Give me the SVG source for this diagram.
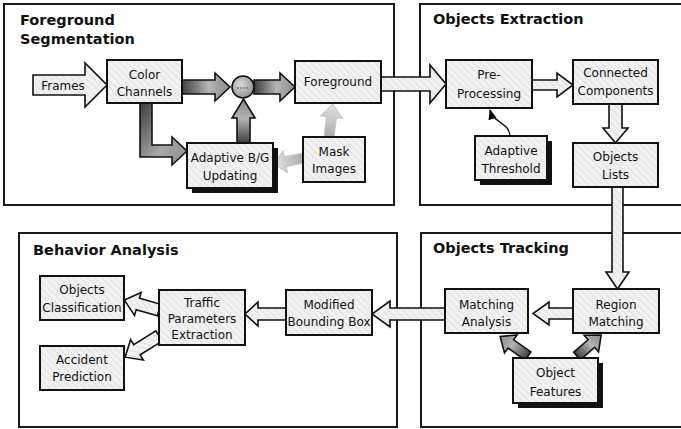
<svg xmlns="http://www.w3.org/2000/svg" width="681" height="429" viewBox="0 0 681 429">
<defs>
<pattern id="hatch" width="5" height="5" patternUnits="userSpaceOnUse" patternTransform="rotate(-45)">
<rect width="5" height="5" fill="#f1f1f1"/>
<line x1="0" y1="0" x2="0" y2="5" stroke="#d2d2d2" stroke-width="1"/>
</pattern>
<linearGradient id="shadeH" x1="0" y1="0" x2="1" y2="0">
<stop offset="0" stop-color="#3e3e3e"/>
<stop offset="0.55" stop-color="#b4b4b4"/>
<stop offset="1" stop-color="#8a8a8a"/>
</linearGradient>
<linearGradient id="shadeV" x1="0" y1="1" x2="0" y2="0">
<stop offset="0" stop-color="#3e3e3e"/>
<stop offset="0.55" stop-color="#b4b4b4"/>
<stop offset="1" stop-color="#8a8a8a"/>
</linearGradient>
<linearGradient id="shadeL" x1="0" y1="0" x2="1" y2="1">
<stop offset="0" stop-color="#3e3e3e"/>
<stop offset="0.6" stop-color="#a8a8a8"/>
<stop offset="1" stop-color="#8a8a8a"/>
</linearGradient>
<linearGradient id="fade" x1="0" y1="0" x2="1" y2="0">
<stop offset="0" stop-color="#a9a9a9"/>
<stop offset="1" stop-color="#e4e4e4"/>
</linearGradient>
<radialGradient id="circ" cx="0.4" cy="0.4" r="0.7">
<stop offset="0" stop-color="#d8d8d8"/>
<stop offset="1" stop-color="#8c8c8c"/>
</radialGradient>
<marker id="tri" viewBox="0 0 10 10" refX="9" refY="5" markerWidth="8" markerHeight="8" orient="auto">
<path d="M0,1 L10,5 L0,9 Z" fill="#000"/>
</marker>
</defs>
<style>
.panel{fill:#fff;stroke:#1a1a1a;stroke-width:2}
.node{fill:url(#hatch);stroke:#111;stroke-width:2}
.shadow{fill:#111}
.title{font-family:"DejaVu Sans",Verdana,sans-serif;font-weight:bold;font-size:14.5px;fill:#111}
.lbl{font-family:"DejaVu Sans",Verdana,sans-serif;font-size:12px;fill:#111;text-anchor:middle}
.hollow{fill:url(#hatch);stroke:#111;stroke-width:1.6;stroke-linejoin:miter}
.dark{stroke:#111;stroke-width:1.6}
.faded{fill:url(#fade);stroke:#c4c4c4;stroke-width:1}
</style>
<rect width="681" height="429" fill="#fff"/>

<g id="panels">
<g id="panel-fg"><rect class="panel" x="4" y="4" width="390" height="201"/>
<text class="title" x="20" y="25">Foreground</text><text class="title" x="20" y="44">Segmentation</text></g>
<g id="panel-oe"><rect class="panel" x="420" y="4" width="280" height="201"/>
<text class="title" x="433" y="24">Objects Extraction</text></g>
<g id="panel-ba"><rect class="panel" x="19" y="233" width="378" height="194"/>
<text class="title" x="33" y="255">Behavior Analysis</text></g>
<g id="panel-ot"><rect class="panel" x="421" y="233" width="280" height="194"/>
<text class="title" x="433" y="253">Objects Tracking</text></g>
</g>

<g id="connectors">
<path class="hollow" d="M33,75 L85,75 L85,63 L107,85 L85,107 L85,95 L33,95 Z"/>
<path class="dark" fill="url(#shadeH)" d="M182,80 L215,80 L215,73 L230,87 L215,101 L215,94 L182,94 Z"/>
<path class="dark" fill="url(#shadeH)" d="M254,80 L280,80 L280,73 L295,87 L280,101 L280,94 L254,94 Z"/>
<path class="dark" fill="url(#shadeV)" d="M237,143 L237,118 L232,118 L243.5,99 L255,118 L250,118 L250,143 Z"/>
<path class="dark" fill="url(#shadeL)" d="M140,103 L140,157 L172,157 L172,165 L187,151 L172,137 L172,145 L152,145 L152,103 Z"/>
<path class="faded" transform="translate(304,158) rotate(169)" d="M0,-5 L19,-5 L19,-11 L31,0 L19,11 L19,5 L0,5 Z"/>
<path class="faded" transform="translate(329,137) rotate(-83)" d="M0,-5 L20,-5 L20,-11 L33,0 L20,11 L20,5 L0,5 Z"/>
<path class="hollow" d="M381,77 L430,77 L430,65 L446,84 L430,103 L430,91 L381,91 Z"/>
<path class="hollow" d="M532,80 L557,80 L557,73 L573,85 L557,97 L557,90 L532,90 Z"/>
<path fill="none" stroke="#111" stroke-width="1.3" marker-end="url(#tri)" d="M510,136 C509,122 494,124 490,110"/>
<path class="hollow" d="M609,104 L609,128 L603,128 L615.5,143 L628,128 L622,128 L622,104 Z"/>
<path class="hollow" d="M612,187 L612,272 L606,272 L617.5,289 L629,272 L623,272 L623,187 Z"/>
<path class="hollow" d="M573,308 L549,308 L549,302 L533,313.5 L549,325 L549,319 L573,319 Z"/>
<path class="dark" fill="url(#shadeH)" transform="translate(528,356) rotate(-145)" d="M0,-5 L21,-5 L21,-11 L34,0 L21,11 L21,5 L0,5 Z"/>
<path class="dark" fill="url(#shadeH)" transform="translate(577,356) rotate(-41)" d="M0,-5 L19,-5 L19,-11 L32,0 L19,11 L19,5 L0,5 Z"/>
<path class="hollow" d="M445,308 L390,308 L390,301 L372,314 L390,327 L390,320 L445,320 Z"/>
<path class="hollow" d="M286,308 L258,308 L258,302 L245,314 L258,326 L258,320 L286,320 Z"/>
<path class="hollow" transform="translate(159,310) rotate(196)" d="M0,-6 L22,-6 L22,-12 L36,0 L22,12 L22,6 L0,6 Z"/>
<path class="hollow" transform="translate(159,336) rotate(148)" d="M0,-6 L26,-6 L26,-12 L40,0 L26,12 L26,6 L0,6 Z"/>
</g>

<g id="frames"><text class="lbl" x="63" y="90">Frames</text></g>
<g id="color-channels"><rect class="node" x="107" y="60" width="75" height="43"/>
<text class="lbl" x="144.5" y="79">Color</text><text class="lbl" x="144.5" y="96">Channels</text></g>
<g id="subtract"><circle cx="243" cy="87" r="11" fill="url(#circ)" stroke="#111" stroke-width="1.6"/>
<line x1="237" y1="88" x2="249" y2="88" stroke="#444" stroke-width="0.8" stroke-dasharray="2,1"/></g>
<g id="foreground"><rect class="node" x="295" y="61" width="86" height="42"/>
<text class="lbl" x="338" y="86">Foreground</text></g>
<g id="adaptive-bg"><rect class="shadow" x="192" y="148" width="86" height="45"/>
<rect class="node" x="187" y="143" width="86" height="45"/>
<text class="lbl" x="230" y="162">Adaptive B/G</text><text class="lbl" x="230" y="180">Updating</text></g>
<g id="mask-images"><rect class="node" x="303" y="137" width="62" height="45"/>
<text class="lbl" x="334" y="156">Mask</text><text class="lbl" x="334" y="173">Images</text></g>

<g id="pre-processing"><rect class="node" x="446" y="60" width="86" height="48"/>
<text class="lbl" x="489" y="79">Pre-</text><text class="lbl" x="489" y="98">Processing</text></g>
<g id="connected-components"><rect class="node" x="573" y="60" width="85" height="44"/>
<text class="lbl" x="615.5" y="77">Connected</text><text class="lbl" x="615.5" y="95">Components</text></g>
<g id="adaptive-threshold"><rect class="shadow" x="480" y="141" width="72" height="44"/>
<rect class="node" x="475" y="136" width="72" height="44"/>
<text class="lbl" x="511" y="155">Adaptive</text><text class="lbl" x="511" y="173">Threshold</text></g>
<g id="objects-lists"><rect class="node" x="573" y="143" width="85" height="44"/>
<text class="lbl" x="615.5" y="161">Objects</text><text class="lbl" x="615.5" y="179">Lists</text></g>

<g id="region-matching"><rect class="node" x="573" y="289" width="86" height="44"/>
<text class="lbl" x="616" y="309">Region</text><text class="lbl" x="616" y="326">Matching</text></g>
<g id="matching-analysis"><rect class="node" x="445" y="289" width="83" height="44"/>
<text class="lbl" x="486.5" y="309">Matching</text><text class="lbl" x="486.5" y="326">Analysis</text></g>
<g id="object-features"><rect class="shadow" x="518" y="363" width="85" height="45"/>
<rect class="node" x="513" y="358" width="85" height="45"/>
<text class="lbl" x="555.5" y="377">Object</text><text class="lbl" x="555.5" y="396">Features</text></g>

<g id="modified-bbox"><rect class="node" x="286" y="290" width="86" height="45"/>
<text class="lbl" x="329" y="309">Modified</text><text class="lbl" x="329" y="326">Bounding Box</text></g>
<g id="traffic-params"><rect class="node" x="159" y="290" width="86" height="55"/>
<text class="lbl" x="202" y="307">Traffic</text><text class="lbl" x="202" y="323">Parameters</text><text class="lbl" x="202" y="339">Extraction</text></g>
<g id="objects-classification"><rect class="node" x="40" y="276" width="84" height="44"/>
<text class="lbl" x="82" y="294">Objects</text><text class="lbl" x="82" y="312">Classification</text></g>
<g id="accident-prediction"><rect class="node" x="40" y="346" width="84" height="44"/>
<text class="lbl" x="82" y="364">Accident</text><text class="lbl" x="82" y="381">Prediction</text></g>
</svg>
